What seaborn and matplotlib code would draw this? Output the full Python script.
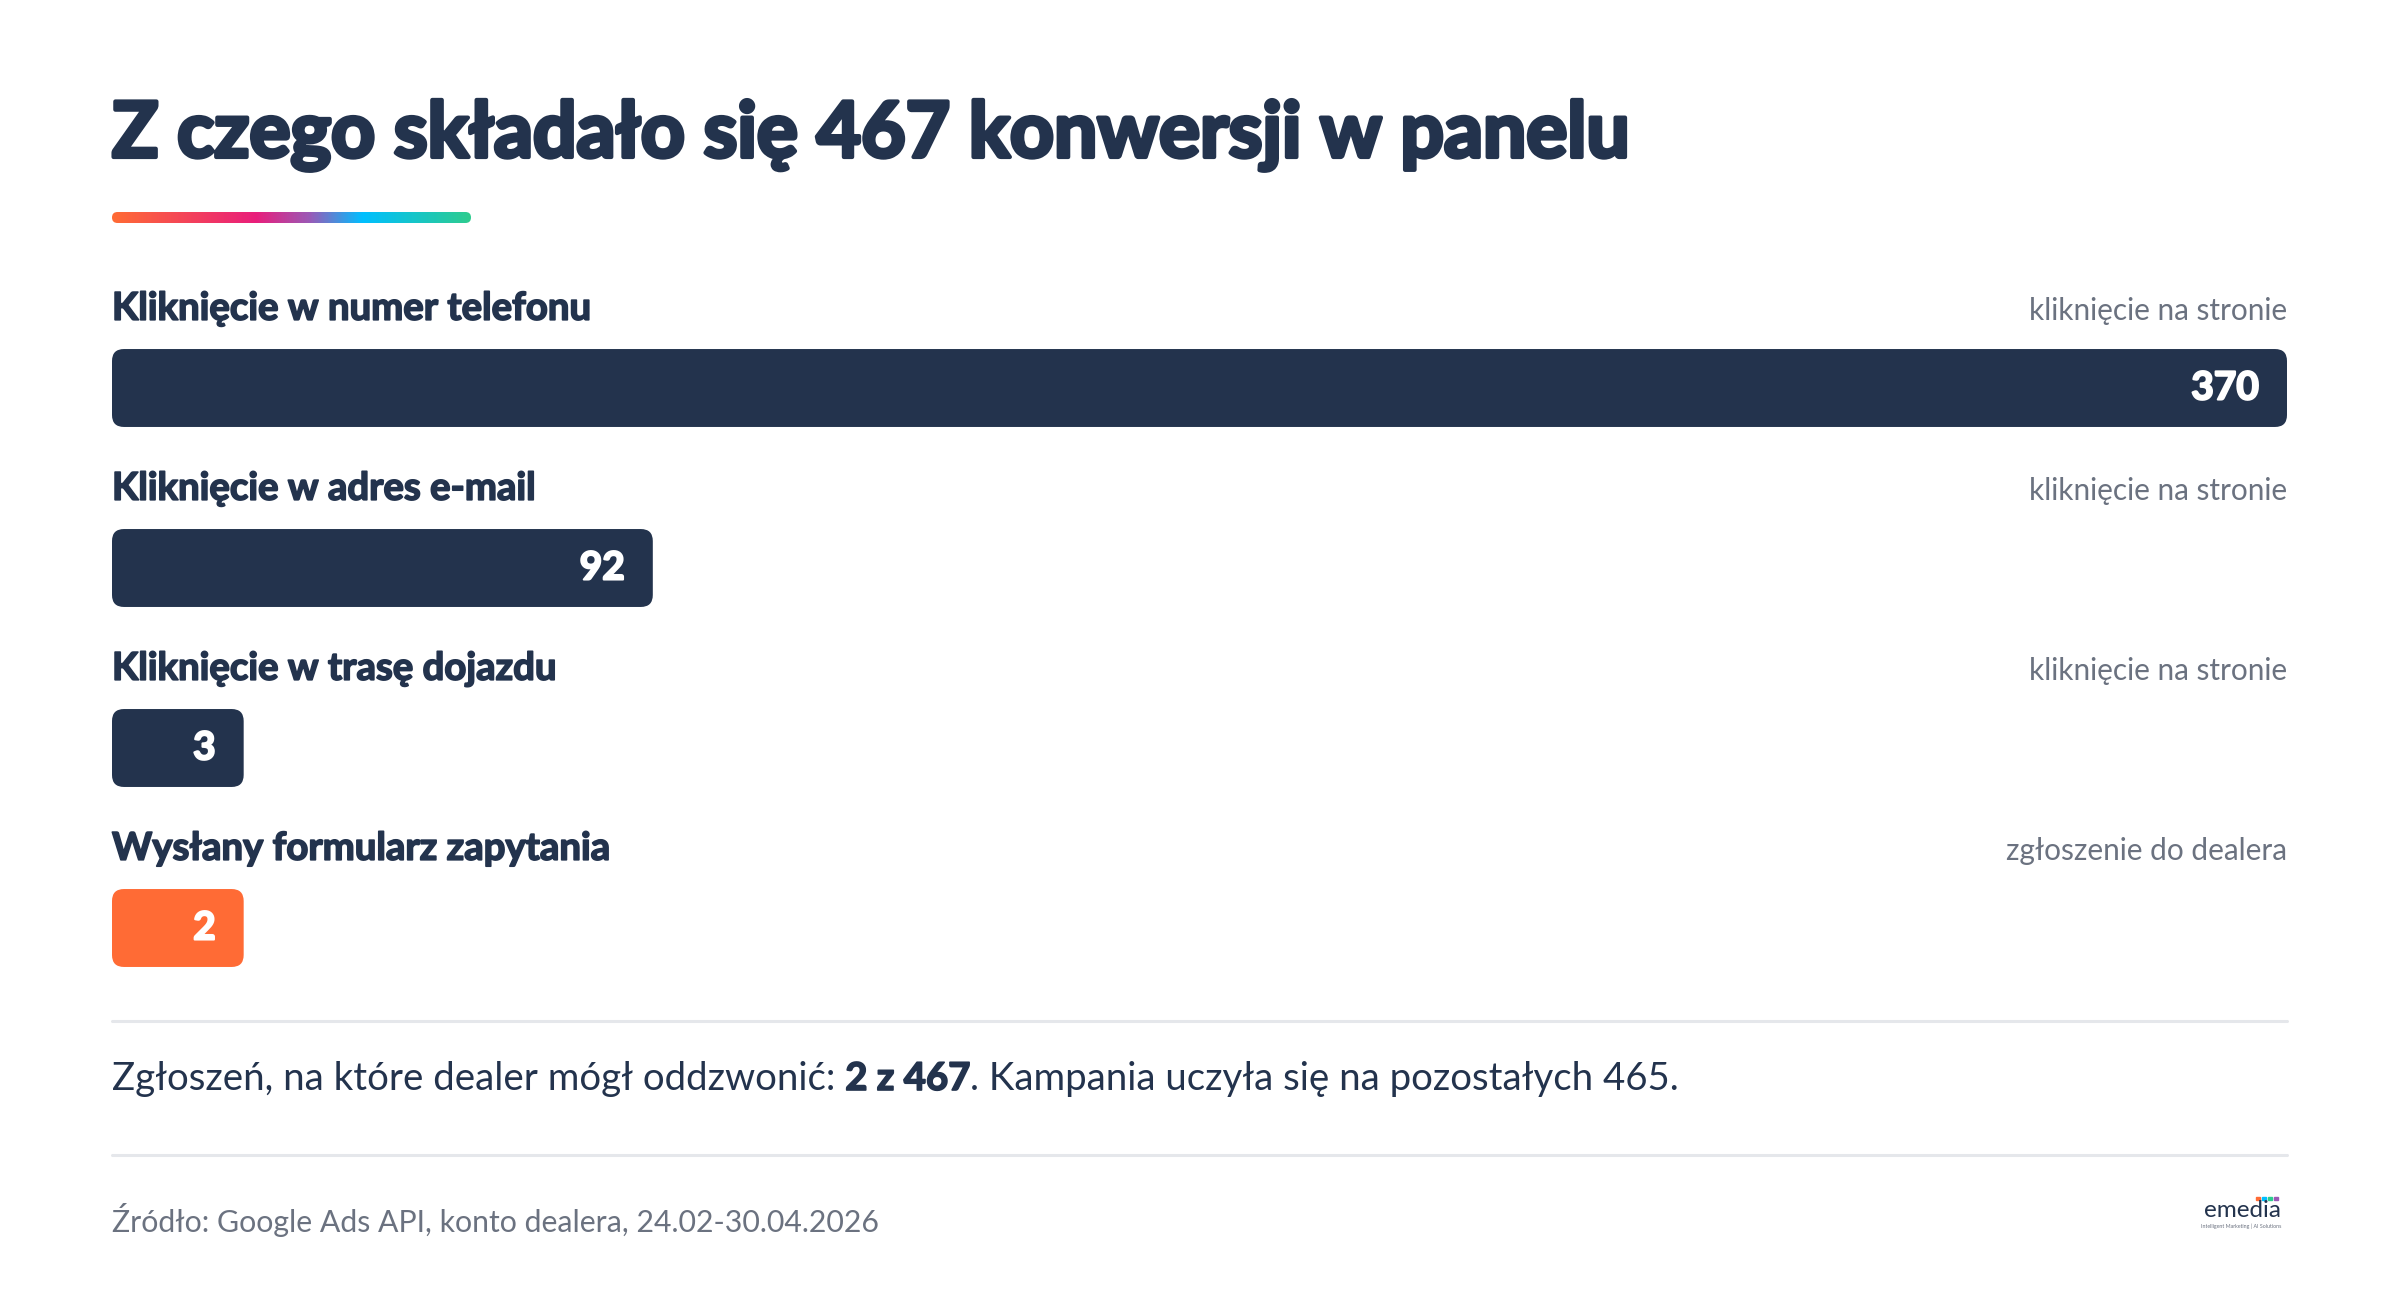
import matplotlib
matplotlib.use("Agg")
import matplotlib.pyplot as plt
import matplotlib.patheffects as pe
from matplotlib.patches import FancyBboxPatch, Rectangle
from matplotlib.lines import Line2D
import seaborn as sns
import numpy as np
import pandas as pd

# data
categories = ["Kliknięcie w numer telefonu", "Kliknięcie w adres e-mail",
              "Kliknięcie w trasę dojazdu", "Wysłany formularz zapytania"]
values = [370, 92, 3, 2]
kinds = ["kliknięcie na stronie", "kliknięcie na stronie",
         "kliknięcie na stronie", "zgłoszenie do dealera"]
total = 467
callable_leads = 2
title = "Z czego składało się 467 konwersji w panelu"
source = "Źródło: Google Ads API, konto dealera, 24.02-30.04.2026"

NAVY = "#23334D"
ORANGE = "#FF6B35"
GRAY = "#6B7280"
LINE = "#E5E7EB"
bar_colors = [NAVY, NAVY, NAVY, ORANGE]

W, H = 2400, 1310
LEFT, RIGHT = 112, 2287

sns.set_theme(style="white")
plt.rcParams["font.family"] = ["Lato", "DejaVu Sans"]

fig = plt.figure(figsize=(24, 13.1), dpi=100)
fig.patch.set_facecolor("white")


def fx(px):
    return px / W


def fy(py):
    return 1 - py / H


def heavy(w, c):
    # thicken glyphs a bit, the original face is heavier than Lato Bold
    return [pe.withStroke(linewidth=w, foreground=c)]


# bars
ax = fig.add_axes([fx(LEFT), fy(1018), (RIGHT - LEFT) / W, 765 / H])
min_w = 22.4  # small counts still get a box wide enough for the label
df = pd.DataFrame({"kategoria": categories, "liczba": values,
                   "szer": np.maximum(values, min_w)})
sns.barplot(data=df, x="szer", y="kategoria", hue="kategoria",
            palette=bar_colors, saturation=1, legend=False, width=0.433,
            orient="h", ax=ax)
ax.set_xlim(0, max(values))
ax.set_ylim(3.5, -0.75)
ax.set_axis_off()

px_x = (RIGHT - LEFT) / max(values)
px_y = 180.0
r = 12 / px_x
for p in list(ax.patches):
    x0, y0, w, h = p.get_x(), p.get_y(), p.get_width(), p.get_height()
    fc = p.get_facecolor()
    p.remove()
    ax.add_patch(FancyBboxPatch((x0, y0), w, h,
                                boxstyle=f"round,pad=0,rounding_size={r}",
                                mutation_aspect=px_x / px_y,
                                fc=fc, ec="none"))

pad = 28 / px_x
for i, row in df.iterrows():
    ax.text(0, i - 0.44, row["kategoria"], ha="left", va="center",
            fontsize=27.6, fontweight="bold", color=NAVY,
            path_effects=heavy(1.2, NAVY))
    ax.text(max(values), i - 0.43, kinds[i], ha="right", va="center",
            fontsize=21.4, color=GRAY)
    ax.text(row["szer"] - pad, i, str(row["liczba"]), ha="right", va="center",
            fontsize=28, fontweight="bold", color="white",
            path_effects=heavy(1.5, "white"))

# title + gradient underline
fig.text(fx(LEFT), fy(157), title, ha="left", va="baseline",
         fontsize=55.3, fontweight="bold", color=NAVY,
         path_effects=heavy(3, NAVY))

gw, gh = 471 - LEFT, 11
gax = fig.add_axes([fx(LEFT), fy(223), gw / W, gh / H])
stops = ["#FF6B35", "#E91E7B", "#9B59B6", "#00BFFF", "#2ECC8F"]
cmap = matplotlib.colors.LinearSegmentedColormap.from_list(
    "grad", list(zip([0, 0.4, 0.55, 0.7, 1.0], stops)))
im = gax.imshow(np.linspace(0, 1, 400)[None, :], aspect="auto", cmap=cmap,
                extent=[0, gw, 0, gh])
gax.set_xlim(0, gw)
gax.set_ylim(0, gh)
clip = FancyBboxPatch((0, 0), gw, gh,
                      boxstyle=f"round,pad=0,rounding_size={gh / 2}",
                      transform=gax.transData, fc="none", ec="none")
gax.add_patch(clip)
im.set_clip_path(clip)
gax.set_axis_off()

# dividers
for yy in (1021, 1155):
    fig.add_artist(Line2D([fx(LEFT), fx(RIGHT)], [fy(yy), fy(yy)],
                          color=LINE, lw=2.2))

# summary sentence with bold part
parts = [("Zgłoszeń, na które dealer mógł oddzwonić: ", "normal"),
         (f"{callable_leads} z {total}", "bold"),
         (f". Kampania uczyła się na pozostałych {total - callable_leads}.", "normal")]
renderer = fig.canvas.get_renderer()
x = LEFT
for txt, wt in parts:
    t = fig.text(fx(x), fy(1079), txt, ha="left", va="center",
                 fontsize=27.6, fontweight=wt, color=NAVY)
    if wt == "bold":
        t.set_path_effects(heavy(1.2, NAVY))
    x += t.get_window_extent(renderer).width

# source
fig.text(fx(LEFT), fy(1220), source, ha="left", va="center",
         fontsize=21.8, color=GRAY)

# logo
fig.text(fx(2281), fy(1217), "emedia", ha="right", va="baseline",
         fontsize=17.5, color=NAVY)
fig.text(fx(2281), fy(1226), "Intelligent Marketing | AI Solutions",
         ha="right", va="center", fontsize=3.8, color=GRAY)
for k, c in enumerate(["#FF6B35", "#00BFFF", "#2ECC8F", "#9B59B6"]):
    fig.add_artist(Rectangle((fx(2256 + k * 6), fy(1200)), 3.5 / W, 3.5 / H,
                             transform=fig.transFigure, color=c))

fig.savefig("out.png", dpi=100, facecolor="white")
